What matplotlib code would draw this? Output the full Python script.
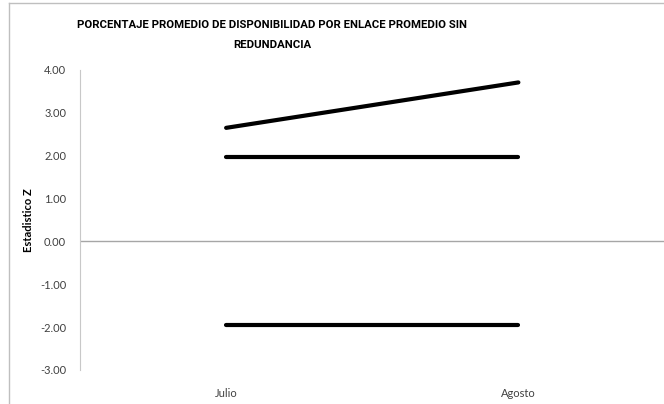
import matplotlib.pyplot as plt
from matplotlib.lines import Line2D

# --- Datos ---
meses = ["Julio", "Agosto"]
estadistico_z = [2.65, 3.71]
limite_superior = [1.96, 1.96]
limite_inferior = [-1.96, -1.96]
yticks = [-3, -2, -1, 0, 1, 2, 3, 4]
titulo = ["PORCENTAJE PROMEDIO DE DISPONIBILIDAD POR ENLACE PROMEDIO SIN", "REDUNDANCIA"]

plt.rcParams["font.family"] = ["Lato", "DejaVu Sans"]

W, H = 664, 404
fig = plt.figure(figsize=(W / 100, H / 100), dpi=100)
ax = fig.add_axes([80 / W, 34 / H, 584.5 / W, 300 / H])

x = range(len(meses))
for serie in [estadistico_z, limite_superior, limite_inferior]:
    ax.plot(x, serie, color="black", linewidth=3, solid_capstyle="round")

ax.axhline(0, color="#a6a6a6", linewidth=1)
ax.set_xlim(-0.5, 1.5)
ax.set_ylim(-3, 4)
ax.set_yticks(yticks)
ax.set_yticklabels([f"{v:.2f}" for v in yticks], fontsize=8, color="#404040")
ax.set_xticks(list(x))
ax.set_xticklabels(meses, fontsize=8, color="#404040")
ax.tick_params(axis="both", length=0)
ax.tick_params(axis="y", pad=10)
ax.tick_params(axis="x", pad=13)
ax.spines[["top", "right", "bottom"]].set_visible(False)
ax.spines["left"].set_color("#c8c8c8")
ax.set_ylabel("Estadistico Z", fontsize=8, fontweight="bold", labelpad=4)

# título en dos líneas
for i, linea in enumerate(titulo):
    fig.text(272 / W, 1 - (25 + 20 * i) / H, linea, ha="center", va="center",
             fontsize=8.2, fontweight="bold", family=["Roboto", "DejaVu Sans"])

# borde del gráfico
fig.add_artist(Line2D([9 / W, 9 / W], [0, 1 - 3 / H], color="#bfbfbf", linewidth=1,
                      transform=fig.transFigure))
fig.add_artist(Line2D([9 / W, 1], [1 - 3 / H, 1 - 3 / H], color="#bfbfbf", linewidth=1,
                      transform=fig.transFigure))

plt.savefig("out.png", dpi=100)
